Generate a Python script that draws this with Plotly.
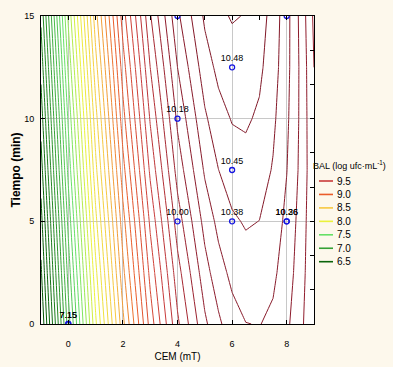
import plotly.graph_objects as go

# ---------------- data ----------------
cem_grid = [-1, 0, 1, 2, 3, 4, 5, 5.5, 6, 6.5, 7, 7.5, 8, 8.5, 9]
tiempo_grid = [0, 2.5, 5, 7.5, 10, 12.5, 15]
bal_grid = [
    [6.20, 7.15, 7.98, 8.67, 9.24, 9.68, 9.98, 10.08, 10.16, 10.198, 10.203, 10.18, 10.12, 10.03, 9.90],
    [6.28, 7.24, 8.07, 8.77, 9.33, 9.76, 10.06, 10.16, 10.225, 10.257, 10.255, 10.22, 10.15, 10.05, 9.91],
    [6.36, 7.33, 8.17, 8.86, 9.42, 9.85, 10.135, 10.227, 10.285, 10.309, 10.299, 10.255, 10.176, 10.063, 9.916],
    [6.45, 7.43, 8.27, 8.96, 9.52, 9.94, 10.214, 10.299, 10.350, 10.366, 10.347, 10.292, 10.203, 10.079, 9.92],
    [6.54, 7.52, 8.36, 9.06, 9.61, 10.02, 10.284, 10.363, 10.406, 10.413, 10.385, 10.320, 10.220, 10.084, 9.91],
    [6.63, 7.62, 8.46, 9.15, 9.70, 10.10, 10.354, 10.425, 10.460, 10.459, 10.420, 10.345, 10.233, 10.084, 9.90],
    [6.72, 7.72, 8.56, 9.25, 9.79, 10.18, 10.417, 10.481, 10.507, 10.496, 10.447, 10.361, 10.237, 10.076, 9.88],
]

obs_cem = [0, 0, 4, 4, 4, 6, 6, 6, 8, 8, 8]
obs_tiempo = [0, 0, 5, 10, 15, 5, 7.5, 12.5, 5, 5, 15]
obs_bal = [7.15, 7.15, 10.00, 10.18, 10.30, 10.38, 10.45, 10.48, 10.26, 10.36, 10.22]

x_ticks = [0, 2, 4, 6, 8]
y_ticks = [0, 5, 10, 15]

legend_levels = [9.5, 9.0, 8.5, 8.0, 7.5, 7.0, 6.5]
legend_colors = ["#c83a3a", "#ea5c2a", "#f7c840", "#eaf23c", "#66e066", "#35a035", "#0a640a"]

# ---------------- styling ----------------
FONT = "Liberation Sans, Arial, sans-serif"
BG = "#fdf8ec"

lvl_start, lvl_end, lvl_step = 6.0, 10.5, 0.1
span = lvl_end - lvl_start
scale_pts = [(6.0, "#004000"), (6.5, "#0a640a"), (7.0, "#35a035"), (7.5, "#66e066"),
             (8.0, "#eaf23c"), (8.5, "#f7c840"), (9.0, "#ea5c2a"), (9.5, "#c83a3a"),
             (10.0, "#901c2c"), (10.5, "#7c1626")]
line_scale = [[(v - lvl_start) / span, c] for v, c in scale_pts]

fig = go.Figure()
fig.add_trace(go.Contour(
    x=cem_grid, y=tiempo_grid, z=bal_grid,
    contours=dict(start=lvl_start, end=lvl_end + 0.05, size=lvl_step, coloring="lines", showlabels=False),
    colorscale=line_scale, showscale=False,
    line=dict(width=1, smoothing=0), hoverinfo="skip",
))
fig.add_trace(go.Scatter(
    x=obs_cem, y=obs_tiempo, mode="markers+text",
    text=[f"{v:.2f}" for v in obs_bal], textposition="top center",
    textfont=dict(size=9, color="black", family=FONT),
    marker=dict(symbol="circle-open", size=5, color="#1515e0", line=dict(width=1.3)),
    cliponaxis=True, showlegend=False, hoverinfo="skip",
))
# helper trace so the top / right tick axes are drawn
fig.add_trace(go.Scatter(x=[None], y=[None], xaxis="x2", yaxis="y2", showlegend=False, hoverinfo="skip"))

L, R, T, B = 41, 314, 16, 324
W, H = 393, 367


def px(p):
    return (p - L) / (R - L)


def py(p):
    return (B - p) / (B - T)


shapes = []
annotations = [dict(
    x=px(311), y=py(165), xref="paper", yref="paper", xanchor="left", yanchor="middle",
    text="BAL (log ufc·mL<sup>-1</sup>)", showarrow=False,
    font=dict(size=9, family=FONT, color="black"),
)]
for i, (lv, col) in enumerate(zip(legend_levels, legend_colors)):
    yy = 181 + i * 13.45
    shapes.append(dict(type="line", xref="paper", yref="paper",
                       x0=px(319), x1=px(333), y0=py(yy), y1=py(yy),
                       line=dict(color=col, width=1.6)))
    annotations.append(dict(x=px(335), y=py(yy), xref="paper", yref="paper",
                            xanchor="left", yanchor="middle", text=f"{lv:.1f}", showarrow=False,
                            font=dict(size=10, family=FONT, color="black")))

axis_common = dict(showline=True, linecolor="black", linewidth=1, mirror=True,
                   zeroline=False, showgrid=True, gridcolor="#c8c8c8", gridwidth=1,
                   ticks="inside", ticklen=4, tickcolor="black", automargin=False,
                   tickfont=dict(size=9, family=FONT, color="black"))

fig.update_layout(
    width=W, height=H, autosize=False,
    margin=dict(l=L, r=W - R, t=T, b=H - B, pad=0, autoexpand=False),
    paper_bgcolor=BG, plot_bgcolor="white",
    showlegend=False,
    xaxis=dict(range=[-1, 9], tickvals=x_ticks, ticklabelstandoff=11,
               title=dict(text="CEM (mT)", font=dict(size=10, family=FONT, color="black"), standoff=5),
               **axis_common),
    yaxis=dict(range=[0, 15], tickvals=y_ticks, ticklabelstandoff=4,
               title=dict(text="<b>Tiempo (min)</b>", font=dict(size=12, family=FONT, color="black"), standoff=0),
               **axis_common),
    xaxis2=dict(overlaying="x", side="top", range=[-1, 9], tick0=0, dtick=1, ticks="inside",
                ticklen=4, tickcolor="black", showticklabels=False, showgrid=False, zeroline=False,
                showline=False),
    yaxis2=dict(overlaying="y", side="right", range=[0, 15], tick0=0, dtick=15 / 9, ticks="inside",
                ticklen=4, tickcolor="black", showticklabels=False, showgrid=False, zeroline=False,
                showline=False),
    shapes=shapes, annotations=annotations,
)

fig.write_html("out.html", config={"displayModeBar": False},
               post_script="document.body.style.margin='0';document.body.style.overflow='hidden';")
